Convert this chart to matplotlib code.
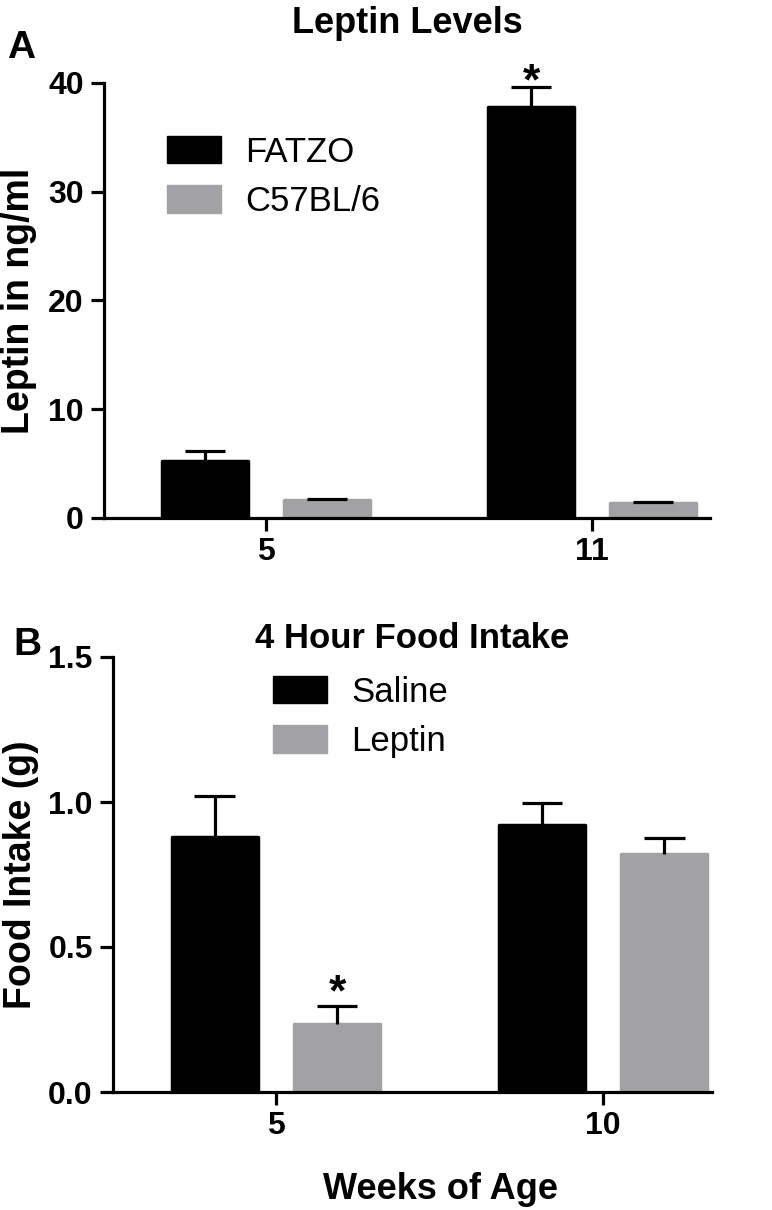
import matplotlib
matplotlib.use("Agg")
import matplotlib.pyplot as plt
from matplotlib.patches import Patch
import numpy as np

plt.rcParams['font.family'] = ['Liberation Sans', 'DejaVu Sans']

# ---- Data ----
top_groups = ["5", "11"]
fatzo_vals = [5.24, 37.8]
fatzo_err = [0.92, 1.8]
c57_vals = [1.66, 1.38]
c57_err = [0.12, 0.10]
top_series = ["FATZO", "C57BL/6"]

bot_groups = ["5", "10"]
saline_vals = [0.879, 0.921]
saline_err = [0.142, 0.076]
leptin_vals = [0.234, 0.821]
leptin_err = [0.062, 0.055]
bot_series = ["Saline", "Leptin"]

BLACK = "#000000"
GRAY = "#A2A2A5"

fig = plt.figure(figsize=(7.72, 12.10), dpi=100)

ax1 = fig.add_axes([104/772, 1-518/1210, 606/772, 435/1210])
ax2 = fig.add_axes([113/772, 1-1092/1210, 599/772, 435/1210])

off = 0.187
width = 0.262
capw = 0.062
lw = 2.3
TICK = 23


def draw(ax, vals_a, err_a, vals_b, err_b, groups):
    x = np.arange(len(groups))
    xa = x - off
    xb = x + off
    ax.bar(xa, vals_a, width, color=BLACK, edgecolor=BLACK, linewidth=2.5, joinstyle='round')
    ax.bar(xb, vals_b, width, color=GRAY, edgecolor=GRAY, linewidth=2.5, joinstyle='round')
    for xs, v, e in ((xa, vals_a, err_a), (xb, vals_b, err_b)):
        v = np.array(v); e = np.array(e)
        ax.vlines(xs, v, v + e, color=BLACK, linewidth=lw)
        ax.hlines(v + e, xs - capw, xs + capw, color=BLACK, linewidth=lw)
    ax.set_xticks(x)
    ax.set_xticklabels(groups)
    for s in ("top", "right"):
        ax.spines[s].set_visible(False)
    for s in ("left", "bottom"):
        ax.spines[s].set_linewidth(lw)
        ax.spines[s].set_zorder(3)
    ax.tick_params(axis='both', width=lw, length=9.5, labelsize=TICK)
    ax.tick_params(axis='x', pad=4)
    ax.tick_params(axis='y', pad=5)
    for lab in ax.get_xticklabels() + ax.get_yticklabels():
        lab.set_fontweight('bold')
    return xa, xb


def legend(ax, labels, anchor):
    return ax.legend(handles=[Patch(facecolor=BLACK, edgecolor=BLACK, joinstyle='round'),
                              Patch(facecolor=GRAY, edgecolor=GRAY, joinstyle='round')],
                     labels=labels, loc='upper left', bbox_to_anchor=anchor,
                     frameon=False, fontsize=25, handlelength=1.56, handleheight=0.84,
                     labelspacing=0.47, handletextpad=0.7, borderpad=0, borderaxespad=0)


xa1, xb1 = draw(ax1, fatzo_vals, fatzo_err, c57_vals, c57_err, top_groups)
ax1.set_xlim(-0.497, 1.362)
ax1.set_ylim(0, 40)
ax1.set_yticks([0, 10, 20, 30, 40])
ax1.set_ylabel("Leptin in ng/ml", fontsize=27, fontweight='bold')
ax1.yaxis.set_label_coords(-0.111, 0.5)
ax1.set_title("Leptin Levels", fontsize=26, fontweight='bold', pad=36)
ax1.annotate("*", xy=(xa1[1], fatzo_vals[1] + fatzo_err[1]), xytext=(0, -11.5),
             textcoords='offset points', ha='center', va='bottom',
             fontsize=32, fontweight='bold')
legend(ax1, top_series, (0.104, 0.879))
fig.text(7/772, 1-58/1210, "A", fontsize=28, fontweight='bold', ha='left', va='baseline')

xa2, xb2 = draw(ax2, saline_vals, saline_err, leptin_vals, leptin_err, bot_groups)
ax2.set_xlim(-0.498, 1.333)
ax2.set_ylim(0, 1.5)
ax2.set_yticks([0.0, 0.5, 1.0, 1.5])
ax2.set_yticklabels(["0.0", "0.5", "1.0", "1.5"])
for lab in ax2.get_yticklabels():
    lab.set_fontweight('bold')
ax2.set_ylabel("Food Intake (g)", fontsize=27, fontweight='bold')
ax2.yaxis.set_label_coords(-0.124, 0.5)
ax2.set_xlabel("Weeks of Age", fontsize=26, fontweight='bold')
ax2.xaxis.set_label_coords(0.546, -0.245)
ax2.xaxis.label.set_va('baseline')
ax2.set_title("4 Hour Food Intake", fontsize=25, fontweight='bold', pad=6.5)
ax2.annotate("*", xy=(xb2[0], leptin_vals[0] + leptin_err[0]), xytext=(0, -6),
             textcoords='offset points', ha='center', va='bottom',
             fontsize=32, fontweight='bold')
legend(ax2, bot_series, (0.267, 0.957))
fig.text(13/772, 1-655/1210, "B", fontsize=28, fontweight='bold', ha='left', va='baseline')

fig.savefig("out.png", dpi=100)
